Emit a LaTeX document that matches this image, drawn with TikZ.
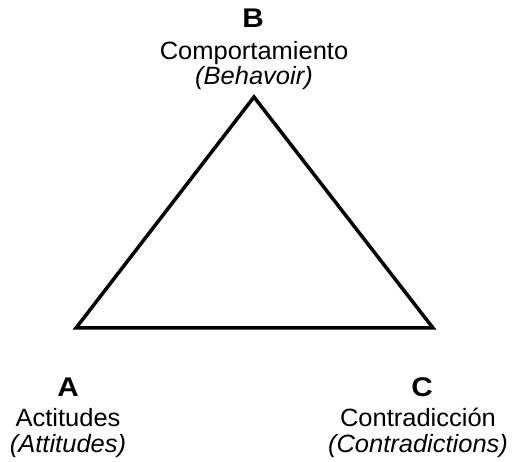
\documentclass[tikz,border=0pt]{standalone}
\usepackage{fontspec}
\setmainfont{Liberation Sans}
\begin{document}
\begin{tikzpicture}[x=1pt,y=-1pt,
  lbl/.style={anchor=base,inner sep=0pt,font=\fontsize{25}{28}\selectfont,xscale=1.02},
  head/.style={anchor=base,inner sep=0pt,font=\fontsize{27}{28}\selectfont\bfseries,xscale=1.1},
  edge/.style={line width=3.5pt,line join=miter}]
\useasboundingbox (0,0) rectangle (512,462);
\coordinate (A) at (76,328);
\coordinate (B) at (254,97);
\coordinate (C) at (433,328);
\draw[edge] (A) -- (B) -- (C) -- cycle;
\node[head] (bl) at (253,28) {B};
\node[lbl] (bt) at (254,60) {Comportamiento};
\node[lbl] (bi) at (254,85) {\itshape(Behavoir)};
\node[head] (al) at (68,397) {A};
\node[lbl] (at) at (68,427) {Actitudes};
\node[lbl] (ai) at (68,453) {\itshape(Attitudes)};
\node[head] (cl) at (422,397) {C};
\node[lbl] (ct) at (418,427) {Contradicción};
\node[lbl] (ci) at (418,453) {\itshape(Contradictions)};
\end{tikzpicture}
\end{document}
